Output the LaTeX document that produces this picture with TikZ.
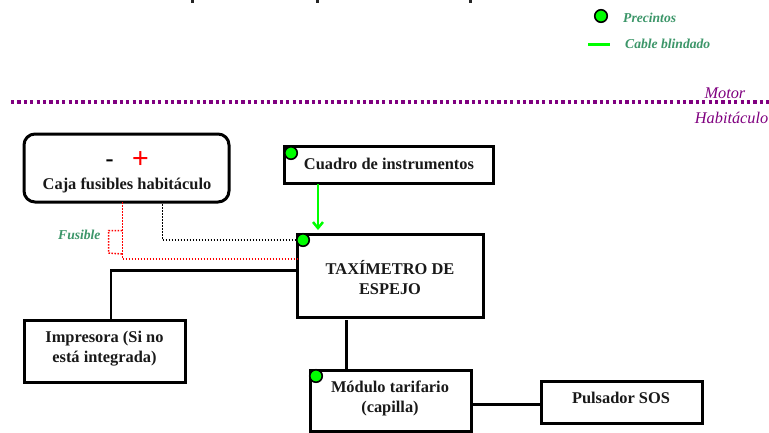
\documentclass[tikz,border=0pt]{standalone}
\usepackage{fontspec}
\setmainfont{Liberation Serif}
\usetikzlibrary{arrows.meta}
\definecolor{legendgreen}{RGB}{60,150,105}
\definecolor{zonepurple}{RGB}{128,0,128}
\definecolor{sealgreen}{RGB}{0,255,0}
\tikzset{
  x=1pt,y=-1pt,
  boxnode/.style={draw=black,line width=3pt,fill=white,align=center,inner sep=0pt,outer sep=0pt},
  boxtext/.style={font=\bfseries\fontsize{16.4}{20}\selectfont,align=center,text=black!90,inner sep=0pt},
  wire/.style={draw=black,line width=2.8pt},
  seal/.style={circle,draw=black,line width=1.6pt,fill=sealgreen,minimum size=12.5pt,inner sep=0pt},
  redfine/.style={draw=red,line width=1.5pt,dash pattern=on 1.5pt off 1.5pt},
  blackfine/.style={draw=black,line width=1.5pt,dash pattern=on 1.5pt off 1.5pt},
  legendtext/.style={text=legendgreen,font=\bfseries\itshape\fontsize{13.6}{15}\selectfont,inner sep=0pt,anchor=west},
  zonetext/.style={text=zonepurple,font=\itshape\fontsize{16.3}{18}\selectfont,inner sep=0pt,anchor=east},
}
\begin{document}
\begin{tikzpicture}
\useasboundingbox (0,0) rectangle (769,432);
\fill[white] (0,0) rectangle (769,432);
% cropped title descenders
\fill[black!85] (191,0) rectangle (193.5,3);
\fill[black!85] (316,0) rectangle (319,3);
\fill[black!85] (469,0) rectangle (471.5,3);
% zone divider
\coordinate (zl) at (11,102); \coordinate (zr) at (769,102);
\draw[zonepurple,line width=3.2pt,dash pattern=on 3.2pt off 3.2pt] (zl) -- (zr);
\node[zonetext] (motor) at (745.5,93) {Motor};
\node[zonetext] (hab) at (768.5,118) {Habitáculo};
% legend
\node[seal] (legseal) at (601,16) {};
\node[legendtext] (legp) at (623,17.5) {Precintos};
\coordinate (la) at (588,44.5); \coordinate (lb) at (610,44.5);
\draw[sealgreen,line width=2.5pt] (la) -- (lb);
\node[legendtext] (legc) at (625,43.5) {Cable blindado};
% boxes
\node[boxnode,rounded corners=11pt,minimum width=205pt,minimum height=68pt,anchor=north west] (caja) at (24,134) {};
\node[boxtext] (cajat) at (127,185) {Caja fusibles habitáculo};
\node[font=\bfseries\fontsize{24}{24}\selectfont,text=black,inner sep=0pt] (minus) at (109.5,163) {-};
\node[font=\bfseries\fontsize{30}{30}\selectfont,text=red,inner sep=0pt] (plus) at (140.5,160.5) {+};
\node[boxnode,minimum width=209pt,minimum height=37pt,anchor=north west] (cuadro) at (284,146) {};
\node[boxtext] (cuadrot) at (389,164) {Cuadro de instrumentos};
\node[boxnode,minimum width=186pt,minimum height=83pt,anchor=north west] (taxi) at (297,234) {};
\node[boxtext] (taxit) at (390,278) {TAXÍMETRO DE\\ESPEJO};
\node[boxnode,minimum width=161pt,minimum height=62pt,anchor=north west] (imp) at (24,320) {};
\node[boxtext] (impt) at (104.5,348.5) {Impresora (Si no\\está integrada)};
\node[boxnode,minimum width=161pt,minimum height=61pt,anchor=north west] (mod) at (310,370) {};
\node[boxtext] (modt) at (390,398) {Módulo tarifario\\(capilla)};
\node[boxnode,minimum width=161pt,minimum height=42pt,anchor=north west] (sos) at (541,381) {};
\node[boxtext] (sost) at (621,398) {Pulsador SOS};
% connectors
\coordinate (g0) at (318,184);\coordinate (g1) at (318,230);
\draw[sealgreen,line width=2.5pt,-{Straight Barb[length=6pt,width=10pt]}] (g0) -- (g1);
\coordinate (r0) at (122.5,202); \coordinate (r1) at (122.5,259);
\draw[redfine] (r0) -- (r1) -- (r1 -| taxi.west);
\coordinate (f0) at (122,230.5); \coordinate (f1) at (108.5,230.5);
\coordinate (f2) at (108.5,253); \coordinate (f3) at (122,254);
\draw[redfine] (f0) -- (f1) -- (f2) -- (f3);
\coordinate (b0) at (162.5,204); \coordinate (b1) at (162.5,240);
\draw[blackfine] (b0) -- (b1) -- (b1 -| taxi.west);
\coordinate (i0) at (111,270.5);
\draw[wire] (taxi.west |- i0) -- (i0) -- (i0 |- imp.north);
\coordinate (m0) at (346.5,320);
\draw[wire] (m0) -- (m0 |- mod.north);
\coordinate (w0) at (471,404.5);\coordinate (w1) at (541,404.5);
\draw[wire] (w0) -- (w1);
% seals
\node[seal] (s1) at (291,153) {};
\node[seal] (s2) at (303,240) {};
\node[seal] (s3) at (316,376) {};
\node[legendtext] (fus) at (58,234.5) {Fusible};
\end{tikzpicture}
\end{document}
